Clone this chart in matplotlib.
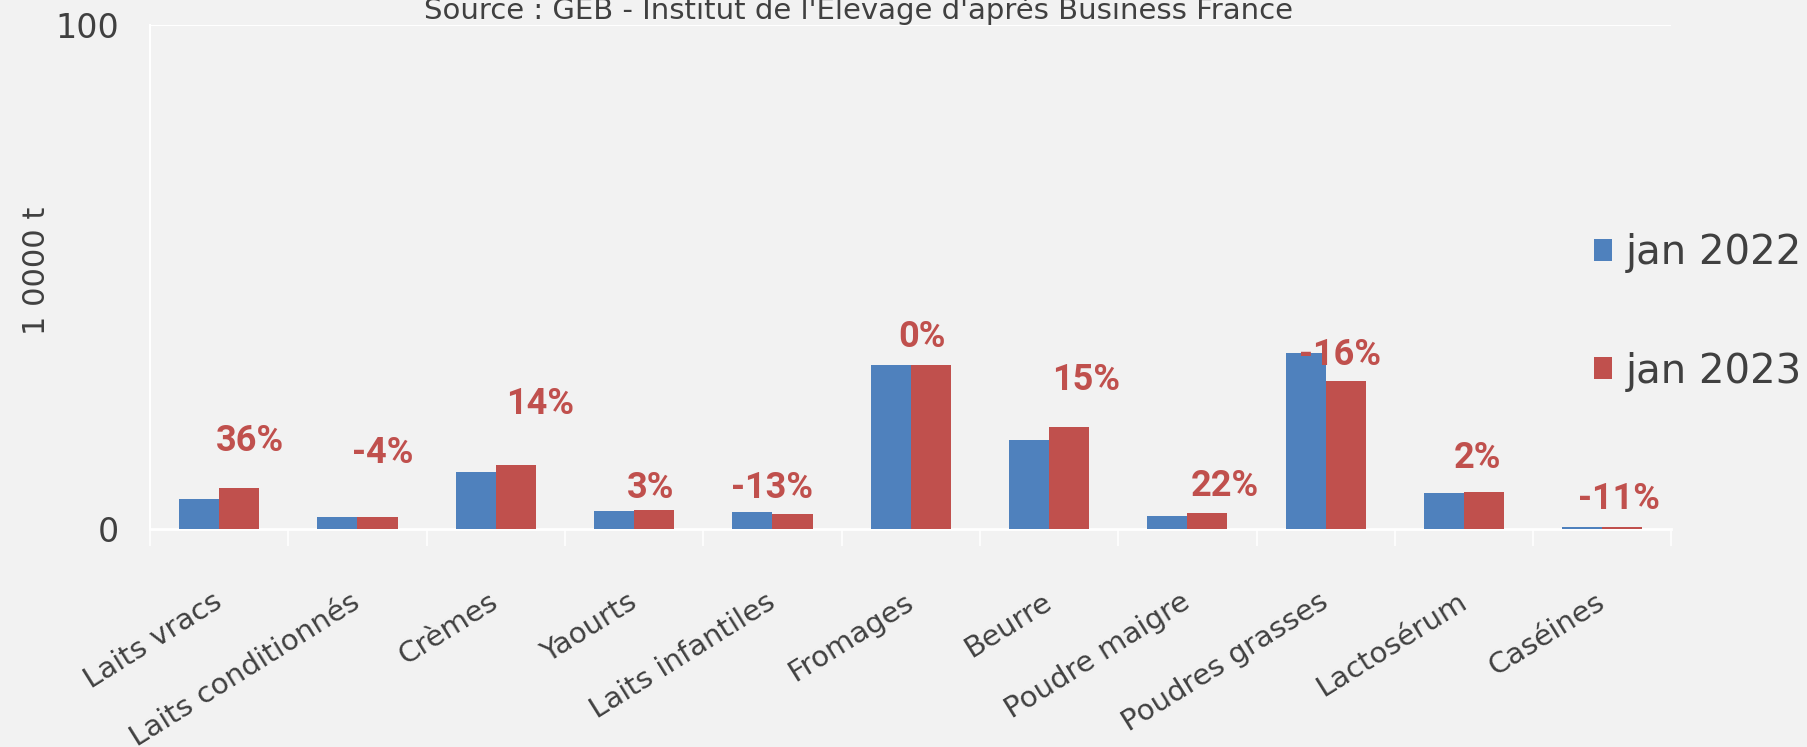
import numpy as np
import matplotlib.pyplot as plt
from matplotlib.ticker import FixedLocator

# Exportations francaises de produits laitiers, janvier (1 0000 t)
categories = ['Laits vracs', 'Laits conditionnés', 'Crèmes', 'Yaourts', 'Laits infantiles',
              'Fromages', 'Beurre', 'Poudre maigre', 'Poudres grasses', 'Lactosérum', 'Caséines']
jan_2022 = [6.0, 2.4, 11.2, 3.6, 3.3, 32.5, 17.6, 2.6, 35.0, 7.2, 0.4]
jan_2023 = [8.2, 2.3, 12.7, 3.7, 2.9, 32.5, 20.2, 3.2, 29.4, 7.4, 0.35]
evolution = ['36%', '-4%', '14%', '3%', '-13%', '0%', '15%', '22%', '-16%', '2%', '-11%']

# position des etiquettes % (decalage en x, hauteur au-dessus de la plus haute barre)
dx_lab = [0.22, 0.18, 0.32, 0.12, 0.0, 0.08, 0.27, 0.27, 0.1, 0.1, 0.12]
dy_lab = [9.2, 12.7, 12.2, 4.5, 4.9, 5.7, 9.3, 5.3, -0.4, 6.6, 5.5]

bleu = '#4f81bd'
rouge = '#c0504d'
gris = '#404040'
fond = '#f2f2f2'

plt.rcParams['font.family'] = ['DejaVu Sans']

fig = plt.figure(figsize=(18.07, 7.47), dpi=100, facecolor=fond)
ax = fig.add_axes([0.083, 0.292, 0.842, 0.674])
ax.set_facecolor(fond)

x = np.arange(len(categories))
w = 0.29
ax.bar(x - w/2, jan_2022, w, color=bleu, label='jan 2022', zorder=3)
ax.bar(x + w/2, jan_2023, w, color=rouge, label='jan 2023', zorder=3)

for i in range(len(categories)):
    haut = max(jan_2022[i], jan_2023[i])
    ax.text(x[i] + dx_lab[i], haut + dy_lab[i], evolution[i], color=rouge,
            fontsize=26, fontweight='bold', ha='center', va='center', zorder=4,
            family=['Roboto', 'DejaVu Sans'])

ax.set_xlim(-0.5, len(categories) - 0.5)
ax.set_ylim(0, 100)
ax.set_yticks([0, 100])
ax.set_yticklabels(['0', '100'])
ax.tick_params(axis='y', length=0, pad=22, labelsize=24, labelcolor=gris)
ax.axhline(100, color='white', lw=1.5, zorder=1)

ax.set_xticks(x)
ax.set_xticklabels(categories, rotation=32, ha='right', va='center',
                   rotation_mode='anchor', fontsize=21, color=gris)
ax.tick_params(axis='x', which='major', length=0, pad=51)
ax.xaxis.set_minor_locator(FixedLocator(np.arange(-0.5, len(categories), 1)))
ax.tick_params(axis='x', which='minor', length=12, color='white', width=1.2)

for s in ['top', 'right']:
    ax.spines[s].set_visible(False)
ax.spines['left'].set_color('white')
ax.spines['bottom'].set_color('white')
ax.spines['left'].set_linewidth(1.5)
ax.spines['bottom'].set_linewidth(2)

ax.set_ylabel('1 0000 t', fontsize=22, color=gris)
ax.yaxis.set_label_coords(-0.065, 0.513)

fig.text(0.475, 0.9746, "Source : GEB - Institut de l'Elevage d'après Business France",
         ha='center', va='baseline', fontsize=21, color=gris)

fig.legend(loc='upper left', bbox_to_anchor=(0.882, 0.688), frameon=False,
           fontsize=29, handlelength=0.45, handleheight=0.45, handletextpad=0.35,
           labelspacing=1.95, borderpad=0, borderaxespad=0, labelcolor=gris)

fig.savefig('out.png', dpi=100, facecolor=fond)
